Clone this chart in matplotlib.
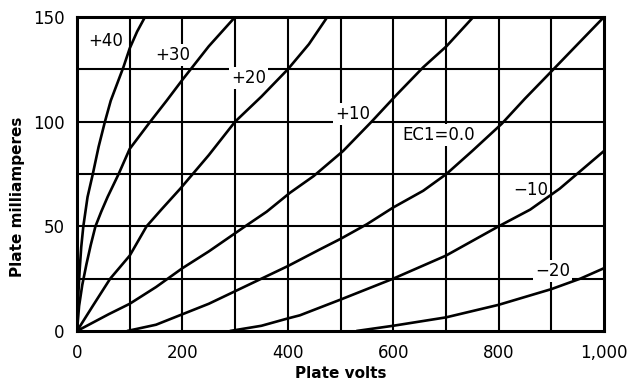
import matplotlib
matplotlib.use("Agg")
import matplotlib.pyplot as plt

# plate volts / plate milliamperes for each grid voltage
v_p40 = [0, 2, 5, 8, 12, 20, 30, 41, 53, 64, 76, 88, 100, 114, 129]
ma_p40 = [0, 15, 29, 40, 50, 64, 75, 88, 100, 110, 118, 126, 135, 143, 150]

v_p30 = [0, 4, 10, 18, 26, 35, 46, 58, 79, 100, 139, 170, 200, 250, 300]
ma_p30 = [0, 12, 22, 32, 41, 50, 57, 64, 75, 87, 100, 110, 120, 136, 150]

v_p20 = [0, 30, 63, 100, 132, 160, 196, 250, 300, 350, 400, 440, 475]
ma_p20 = [0, 12, 25, 36, 50, 58, 68, 84, 100, 112, 125, 137, 150]

v_p10 = [0, 60, 100, 150, 200, 250, 319, 360, 404, 449, 505, 559, 607, 657, 701, 752]
ma_p10 = [0, 8, 13, 21, 30, 38, 50, 57, 66, 74, 86, 100, 113, 126, 136, 150]

v_0 = [95, 150, 200, 250, 300, 350, 400, 461, 500, 550, 600, 657, 701, 750, 806, 850, 904, 950, 1000]
ma_0 = [0, 3, 8, 13, 19, 25, 31, 39, 44, 51, 59, 67, 75, 86, 99, 111, 125, 137, 150]

v_m10 = [290, 350, 400, 423, 500, 600, 700, 800, 860, 916, 1000]
ma_m10 = [0, 2.5, 6, 7.5, 15, 25, 36, 50, 58, 68, 86]

v_m20 = [530, 600, 700, 800, 900, 955, 1000]
ma_m20 = [0, 2.5, 6.5, 12.5, 20, 25, 30]

curves = [(v_p40, ma_p40), (v_p30, ma_p30), (v_p20, ma_p20), (v_p10, ma_p10),
          (v_0, ma_0), (v_m10, ma_m10), (v_m20, ma_m20)]

label_text = ["+40", "+30", "+20", "+10", "EC1=0.0", "\u221210", "\u221220"]
label_v = [55, 182, 325, 523, 686, 861, 902]
label_ma = [138.6, 131.8, 120.7, 103.8, 93.7, 67.2, 28.5]

x_ticks = [0, 200, 400, 600, 800, 1000]
x_tick_labels = ["0", "200", "400", "600", "800", "1,000"]
y_ticks = [0, 50, 100, 150]

fig = plt.figure(figsize=(6.34, 3.83), dpi=100)
ax = fig.add_axes([77 / 634, 52 / 383, 527 / 634, 314 / 383])

# grid drawn by hand so it can sit under the labels
for gx in range(100, 1000, 100):
    ax.axvline(gx, color="black", lw=1.5, zorder=1)
for gy in range(25, 150, 25):
    ax.axhline(gy, color="black", lw=1.5, zorder=1)

for v, ma in curves:
    ax.plot(v, ma, color="black", lw=1.9, zorder=4, solid_capstyle="butt")

for t, lv, lm in zip(label_text, label_v, label_ma):
    ax.text(lv, lm, t, ha="center", va="center", fontsize=12, zorder=3,
            bbox=dict(facecolor="white", edgecolor="none", pad=1.5))

ax.set_xlim(0, 1000)
ax.set_ylim(0, 150)
ax.set_xticks(x_ticks)
ax.set_xticklabels(x_tick_labels)
ax.set_yticks(y_ticks)
ax.tick_params(length=0, labelsize=12, pad=9)
for s in ax.spines.values():
    s.set_linewidth(2.2)
    s.set_zorder(5)

ax.set_xlabel("Plate volts", fontsize=11, fontweight="bold")
ax.set_ylabel("Plate milliamperes", fontsize=11, fontweight="bold")
ax.xaxis.set_label_coords(0.5, -0.11)
ax.yaxis.set_label_coords(-0.098, 0.427)

fig.savefig("out.png", dpi=100)
